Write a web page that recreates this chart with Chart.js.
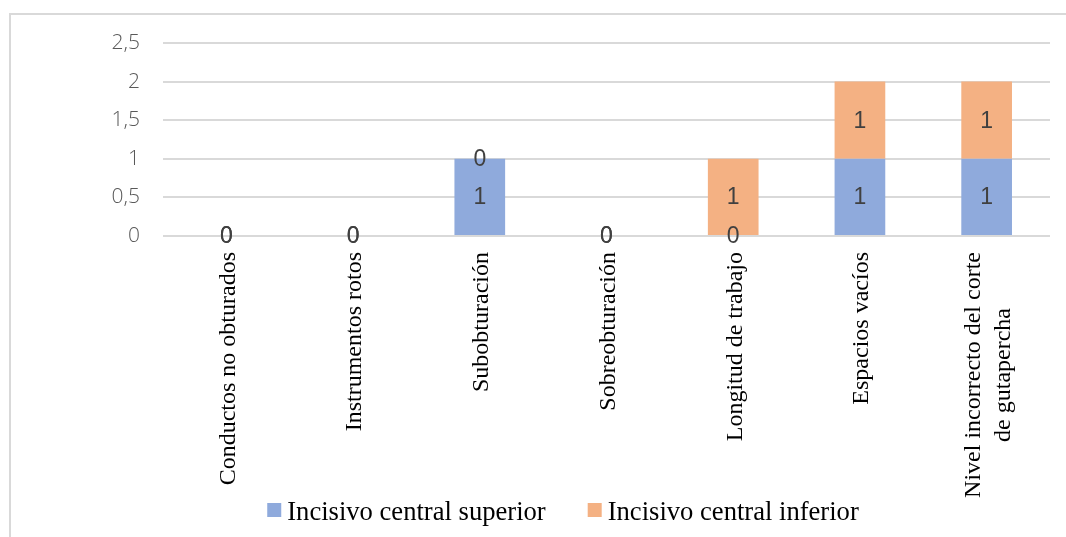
<!DOCTYPE html>
<html lang="es">
<head>
<meta charset="utf-8">
<title>Errores de obturación por pieza dentaria</title>
<script src="https://cdn.jsdelivr.net/npm/chart.js@4.4.1/dist/chart.umd.min.js"></script>
<style>
  html, body { margin: 0; padding: 0; background: #ffffff; }
  #wrap { position: relative; width: 1066px; height: 537px; }
  canvas { display: block; }
</style>
</head>
<body>
<div id="wrap"><canvas id="chart" width="1066" height="537"></canvas></div>
<script>
// Categorías del eje X (la última se parte en dos líneas)
const categories = [
  'Conductos no obturados',
  'Instrumentos rotos',
  'Subobturación',
  'Sobreobturación',
  'Longitud de trabajo',
  'Espacios vacíos',
  ['Nivel incorrecto del corte', 'de gutapercha']
];

// Series
const seriesNames = ['Incisivo central superior', 'Incisivo central inferior'];
const superior = [0, 0, 1, 0, 0, 1, 1];
const inferior = [0, 0, 0, 0, 1, 1, 1];

// Eje Y
const yTicks = [0, 0.5, 1, 1.5, 2, 2.5];

const BLUE = '#8faadc';
const ORANGE = '#f4b183';

const fmt = v => String(v).replace('.', ',');

// Marco gris claro alrededor del gráfico
const frame = {
  id: 'frame',
  beforeDraw(chart) {
    const ctx = chart.ctx;
    ctx.save();
    ctx.strokeStyle = '#d9d9d9';
    ctx.lineWidth = 2;
    ctx.beginPath();
    ctx.moveTo(10, chart.height);
    ctx.lineTo(10, 14);
    ctx.lineTo(chart.width, 14);
    ctx.stroke();
    ctx.restore();
  }
};

// Valores centrados en cada segmento de la barra
const valueLabels = {
  id: 'valueLabels',
  afterDatasetsDraw(chart) {
    const ctx = chart.ctx;
    ctx.save();
    ctx.font = '23px "Liberation Sans", Arial, sans-serif';
    ctx.fillStyle = '#404040';
    ctx.textAlign = 'center';
    ctx.textBaseline = 'middle';
    chart.data.datasets.forEach((ds, i) => {
      chart.getDatasetMeta(i).data.forEach((bar, j) => {
        const p = bar.getProps(['x', 'y', 'base'], true);
        ctx.fillText(fmt(ds.data[j]), p.x, (p.y + p.base) / 2 + 1);
      });
    });
    ctx.restore();
  }
};

// Etiquetas verticales del eje X; las de varias líneas van centradas entre sí
const xLabels = {
  id: 'xLabels',
  afterDraw(chart) {
    const ctx = chart.ctx;
    const xs = chart.scales.x;
    const top = chart.chartArea.bottom + 16;
    const lineH = 30;
    ctx.save();
    ctx.font = '24px "Liberation Serif", "Times New Roman", serif';
    ctx.fillStyle = '#000000';
    ctx.textAlign = 'right';
    ctx.textBaseline = 'middle';
    chart.data.labels.forEach((lab, i) => {
      const lines = Array.isArray(lab) ? lab : [lab];
      const widths = lines.map(l => ctx.measureText(l).width);
      const maxW = Math.max(...widths);
      const x = xs.getPixelForTick(i) + 2;
      ctx.save();
      ctx.translate(x, top);
      ctx.rotate(-Math.PI / 2);
      lines.forEach((l, k) => {
        const off = (k - (lines.length - 1) / 2) * lineH;
        ctx.fillText(l, -(maxW - widths[k]) / 2, off);
      });
      ctx.restore();
    });
    ctx.restore();
  }
};

// Leyenda inferior: cuadro de color pegado al nombre de la serie
const seriesLegend = {
  id: 'seriesLegend',
  afterDraw(chart) {
    const ctx = chart.ctx;
    const box = 14, gapText = 6, gapItem = 42;
    const cy = 510;
    ctx.save();
    ctx.font = '26.6px "Liberation Serif", "Times New Roman", serif';
    ctx.textAlign = 'left';
    ctx.textBaseline = 'middle';
    const items = chart.data.datasets.map(ds => ({
      text: ds.label, color: ds.backgroundColor, w: ctx.measureText(ds.label).width
    }));
    const total = items.reduce((s, it) => s + box + gapText + it.w, 0) + gapItem * (items.length - 1);
    let x = 563 - total / 2;
    items.forEach(it => {
      ctx.fillStyle = it.color;
      ctx.fillRect(x, cy - box / 2, box, box);
      ctx.fillStyle = '#000000';
      ctx.fillText(it.text, x + box + gapText, cy + 3);
      x += box + gapText + it.w + gapItem;
    });
    ctx.restore();
  }
};

new Chart(document.getElementById('chart'), {
  type: 'bar',
  data: {
    labels: categories,
    datasets: [
      { label: seriesNames[0], data: superior, backgroundColor: BLUE },
      { label: seriesNames[1], data: inferior, backgroundColor: ORANGE }
    ]
  },
  options: {
    responsive: false,
    animation: false,
    devicePixelRatio: 1,
    layout: { padding: { left: 0, right: 16, top: 43, bottom: 0 } },
    datasets: { bar: { categoryPercentage: 1, barPercentage: 0.4 } },
    scales: {
      x: {
        stacked: true,
        grid: { display: false },
        border: { display: false },
        ticks: { display: false },
        afterFit(scale) { scale.height = 301; }
      },
      y: {
        stacked: true,
        min: 0,
        max: 2.5,
        afterBuildTicks(scale) { scale.ticks = yTicks.map(v => ({ value: v })); },
        afterFit(scale) { scale.width = 163; },
        border: { display: false },
        grid: { color: '#d9d9d9', lineWidth: 2, drawTicks: false },
        ticks: {
          padding: 23,
          color: '#595959',
          font: { family: '"Open Sans", sans-serif', size: 21, weight: 300 },
          callback: v => fmt(v)
        }
      }
    },
    plugins: {
      legend: { display: false },
      tooltip: { enabled: false }
    }
  },
  plugins: [frame, valueLabels, xLabels, seriesLegend]
});
</script>
</body>
</html>
